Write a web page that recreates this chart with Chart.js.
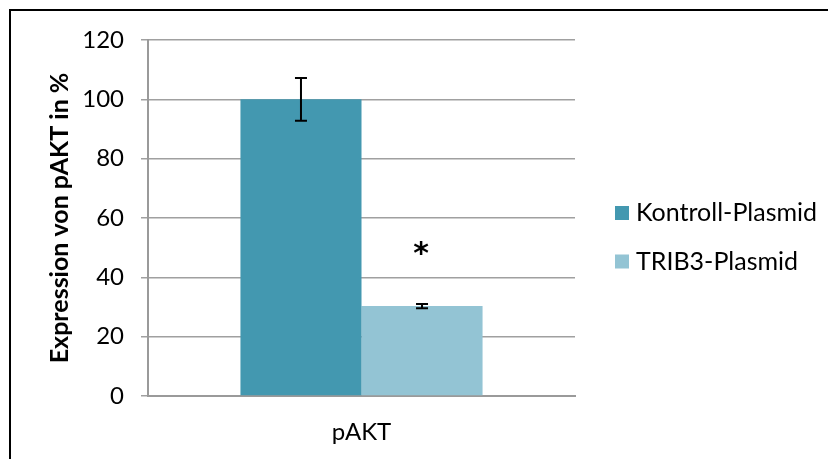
<!DOCTYPE html>
<html>
<head>
<meta charset="utf-8">
<script src="https://cdn.jsdelivr.net/npm/chart.js@4/dist/chart.umd.min.js"></script>
<style>
  html, body { margin: 0; padding: 0; background: #fff; }
  #wrap { width: 828px; height: 459px; position: relative; }
</style>
</head>
<body>
<div id="wrap"><canvas id="chart" width="828" height="459"></canvas></div>
<script>
// Expression of pAKT after transfection, in percent of control
const categories = ['pAKT'];
const seriesNames = ['Kontroll-Plasmid', 'TRIB3-Plasmid'];
const kontrollValues = [100];
const kontrollErrors = [7.2];
const trib3Values = [30.3];
const trib3Errors = [0.75];
const kontrollMarks = [''];
const trib3Marks = ['*'];
const yMin = 0, yMax = 120, yStep = 20;

const FONT = 'Lato, Calibri, "Liberation Sans", sans-serif';
const colors = ['#4398B0', '#93C4D4'];

// error bars, significance marks, legend and outer frame
const extras = {
  id: 'extras',
  afterDatasetsDraw(chart) {
    const ctx = chart.ctx;
    const y = chart.scales.y;
    ctx.save();
    chart.data.datasets.forEach((ds, di) => {
      const meta = chart.getDatasetMeta(di);
      meta.data.forEach((bar, i) => {
        const v = ds.data[i], e = ds.errors[i];
        const yTop = y.getPixelForValue(v + e);
        const yBot = y.getPixelForValue(v - e);
        ctx.strokeStyle = '#000';
        ctx.lineWidth = 2;
        ctx.beginPath();
        ctx.moveTo(bar.x, yTop); ctx.lineTo(bar.x, yBot);
        ctx.moveTo(bar.x - 6, yTop); ctx.lineTo(bar.x + 6, yTop);
        ctx.moveTo(bar.x - 6, yBot); ctx.lineTo(bar.x + 6, yBot);
        ctx.stroke();
        const mark = ds.marks[i];
        if (mark) {
          ctx.fillStyle = '#000';
          ctx.font = 'bold 30px "DejaVu Sans", sans-serif';
          ctx.textAlign = 'center';
          ctx.textBaseline = 'alphabetic';
          const m = ctx.measureText(mark);
          const cy = yTop - 55;
          const base = cy + (m.actualBoundingBoxAscent - m.actualBoundingBoxDescent) / 2;
          ctx.fillText(mark, bar.x - 1, base);
        }
      });
    });
    // legend
    ctx.font = '25px ' + FONT;
    ctx.textAlign = 'left';
    ctx.textBaseline = 'middle';
    chart.data.datasets.forEach((ds, di) => {
      const cy = 213 + di * 48.5;
      ctx.fillStyle = ds.backgroundColor;
      ctx.fillRect(615, cy - 7, 14, 14);
      ctx.fillStyle = '#000';
      ctx.fillText(ds.label, 636, cy);
    });
    // frame
    ctx.fillStyle = '#000';
    ctx.fillRect(9, 9, 819, 2);
    ctx.fillRect(9, 9, 2, 450);
    ctx.restore();
  }
};

new Chart(document.getElementById('chart'), {
  type: 'bar',
  data: {
    labels: categories,
    datasets: [
      { label: seriesNames[0], data: kontrollValues, errors: kontrollErrors, marks: kontrollMarks,
        backgroundColor: colors[0], categoryPercentage: 0.567, barPercentage: 1.0 },
      { label: seriesNames[1], data: trib3Values, errors: trib3Errors, marks: trib3Marks,
        backgroundColor: colors[1], categoryPercentage: 0.567, barPercentage: 1.0 }
    ]
  },
  options: {
    responsive: false,
    animation: false,
    layout: { padding: { top: 40, right: 253, bottom: 0, left: 0 } },
    plugins: { legend: { display: false }, tooltip: { enabled: false } },
    scales: {
      x: {
        grid: { display: false, drawTicks: false },
        border: { display: true, color: '#9a9a9a', width: 2 },
        ticks: { color: '#000', font: { family: FONT, size: 24 }, padding: 22 },
        afterFit(s) { s.height = 63; }
      },
      y: {
        min: yMin, max: yMax,
        ticks: { stepSize: yStep, color: '#000', font: { family: FONT, size: 24 }, padding: 17 },
        grid: { color: '#a0a0a0', lineWidth: 1.5, tickLength: 7 },
        border: { display: true, color: '#9a9a9a', width: 2 },
        title: { display: true, text: 'Expression von pAKT in %', color: '#000',
                 font: { family: FONT, size: 25, weight: 'bold' }, padding: { top: 45 } },
        afterFit(s) { s.width = 148; }
      }
    }
  },
  plugins: [extras]
});
</script>
</body>
</html>
